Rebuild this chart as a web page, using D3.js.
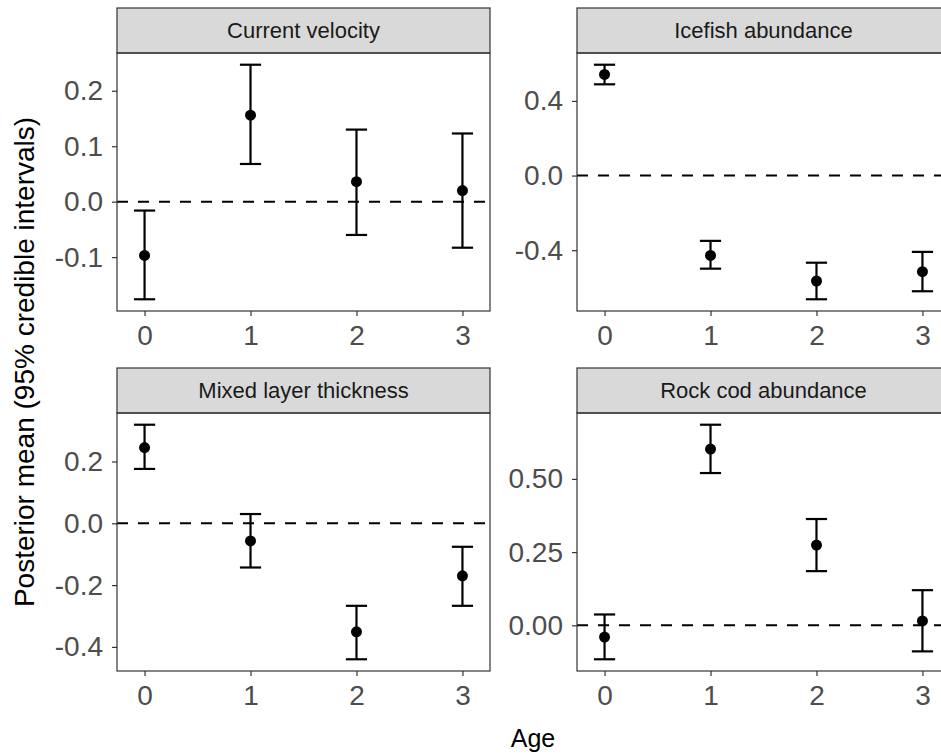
<!DOCTYPE html>
<html>
<head>
<meta charset="utf-8">
<script src="https://cdn.jsdelivr.net/npm/d3@7"></script>
<style>
  body { margin: 0; background: #fff; }
  svg { display: block; font-family: "Liberation Sans", Arial, sans-serif; }
</style>
</head>
<body>
<div id="chart"></div>
<script>
// ages on the x axis
var ages = [0, 1, 2, 3];

// facet titles, in drawing order (row by row)
var panels = ["Current velocity", "Icefish abundance", "Mixed layer thickness", "Rock cod abundance"];

// posterior means and 95% credible intervals, per panel
var velocityMean = [-0.097, 0.156, 0.036, 0.020];
var velocityLow  = [-0.176, 0.068, -0.060, -0.083];
var velocityHigh = [-0.016, 0.247, 0.130, 0.123];

var icefishMean = [0.542, -0.428, -0.565, -0.515];
var icefishLow  = [0.489, -0.499, -0.663, -0.620];
var icefishHigh = [0.594, -0.350, -0.467, -0.409];

var mixedMean = [0.245, -0.057, -0.351, -0.170];
var mixedLow  = [0.176, -0.143, -0.440, -0.267];
var mixedHigh = [0.319, 0.030, -0.267, -0.076];

var rockcodMean = [-0.040, 0.602, 0.274, 0.015];
var rockcodLow  = [-0.116, 0.520, 0.185, -0.089];
var rockcodHigh = [0.037, 0.685, 0.363, 0.120];

// y tick labels per panel
var velocityTicks = [-0.1, 0.0, 0.1, 0.2];
var icefishTicks  = [-0.4, 0.0, 0.4];
var mixedTicks    = [-0.4, -0.2, 0.0, 0.2];
var rockcodTicks  = [0.00, 0.25, 0.50];

var panelData = [
    {title: panels[0], mean: velocityMean, low: velocityLow, high: velocityHigh, ticks: velocityTicks, digits: 1},
    {title: panels[1], mean: icefishMean,  low: icefishLow,  high: icefishHigh,  ticks: icefishTicks,  digits: 1},
    {title: panels[2], mean: mixedMean,    low: mixedLow,    high: mixedHigh,    ticks: mixedTicks,    digits: 1},
    {title: panels[3], mean: rockcodMean,  low: rockcodLow,  high: rockcodHigh,  ticks: rockcodTicks,  digits: 2}
];

var W = 941, H = 756;
var colX = [117, 577];    // panel left edges
var rowY = [8, 368];      // strip top edges
var panelW = 373, stripH = 45, panelH = 258;
var capW = 0.2;           // error bar width in x units

var svg = d3.select("#chart").append("svg")
    .attr("width", W)
    .attr("height", H);

svg.append("rect").attr("width", W).attr("height", H).attr("fill", "white");

// x domain: error bar extent plus ggplot's 5% padding
var xPad = (ages[ages.length - 1] - ages[0] + capW) * 0.05;
var xDomain = [ages[0] - capW / 2 - xPad, ages[ages.length - 1] + capW / 2 + xPad];

panelData.forEach(function(p, i) {
    var left = colX[i % 2];
    var top = rowY[Math.floor(i / 2)];
    var g = svg.append("g").attr("transform", "translate(" + left + "," + top + ")");

    // strip
    g.append("rect")
        .attr("x", 0).attr("y", 0)
        .attr("width", panelW).attr("height", stripH)
        .attr("fill", "#d9d9d9")
        .attr("stroke", "#333").attr("stroke-width", 1.2);
    g.append("text")
        .attr("x", panelW / 2).attr("y", stripH / 2)
        .attr("dy", "0.35em")
        .attr("text-anchor", "middle")
        .attr("font-size", 22)
        .attr("fill", "#1a1a1a")
        .text(p.title);

    var plot = g.append("g").attr("transform", "translate(0," + stripH + ")");

    var x = d3.scaleLinear().domain(xDomain).range([0, panelW]);
    var lo = d3.min(p.low), hi = d3.max(p.high);
    var pad = (hi - lo) * 0.05;
    var y = d3.scaleLinear().domain([lo - pad, hi + pad]).range([panelH, 0]);

    // zero line
    plot.append("line")
        .attr("x1", 0).attr("x2", panelW)
        .attr("y1", y(0)).attr("y2", y(0))
        .attr("stroke", "black")
        .attr("stroke-width", 2)
        .attr("stroke-dasharray", "11,10");

    var rows = ages.map(function(a, j) {
        return {age: a, mean: p.mean[j], low: p.low[j], high: p.high[j]};
    });

    var bars = plot.selectAll("g.bar")
        .data(rows)
        .enter()
        .append("g")
        .attr("class", "bar");
    bars.append("line")
        .attr("x1", function(d) { return x(d.age); })
        .attr("x2", function(d) { return x(d.age); })
        .attr("y1", function(d) { return y(d.low); })
        .attr("y2", function(d) { return y(d.high); });
    bars.append("line")
        .attr("x1", function(d) { return x(d.age - capW / 2); })
        .attr("x2", function(d) { return x(d.age + capW / 2); })
        .attr("y1", function(d) { return y(d.low); })
        .attr("y2", function(d) { return y(d.low); });
    bars.append("line")
        .attr("x1", function(d) { return x(d.age - capW / 2); })
        .attr("x2", function(d) { return x(d.age + capW / 2); })
        .attr("y1", function(d) { return y(d.high); })
        .attr("y2", function(d) { return y(d.high); });
    bars.selectAll("line")
        .attr("stroke", "black")
        .attr("stroke-width", 2.2);
    bars.append("circle")
        .attr("cx", function(d) { return x(d.age); })
        .attr("cy", function(d) { return y(d.mean); })
        .attr("r", 5.5)
        .attr("fill", "black");

    // panel border
    plot.append("rect")
        .attr("width", panelW).attr("height", panelH)
        .attr("fill", "none")
        .attr("stroke", "#333").attr("stroke-width", 1.2);

    // axes
    var yAxis = plot.append("g")
        .call(d3.axisLeft(y)
            .tickValues(p.ticks)
            .tickSize(5)
            .tickPadding(9)
            .tickFormat(function(d) { return d.toFixed(p.digits); }));
    var xAxis = plot.append("g")
        .attr("transform", "translate(0," + panelH + ")")
        .call(d3.axisBottom(x)
            .tickValues(ages)
            .tickSize(5)
            .tickPadding(9)
            .tickFormat(d3.format("d")));

    [yAxis, xAxis].forEach(function(ax) {
        ax.select(".domain").remove();
        ax.selectAll(".tick line").attr("stroke", "#333").attr("stroke-width", 1.2);
        ax.selectAll(".tick text")
            .attr("fill", "#4d4d4d")
            .attr("font-size", 28)
            .attr("font-family", "Liberation Sans, Arial, sans-serif");
    });
});

// axis titles
svg.append("text")
    .attr("x", 533).attr("y", 747)
    .attr("text-anchor", "middle")
    .attr("font-size", 25)
    .attr("fill", "black")
    .text("Age");

svg.append("text")
    .attr("transform", "translate(34,362) rotate(-90)")
    .attr("text-anchor", "middle")
    .attr("font-size", 28)
    .attr("fill", "black")
    .text("Posterior mean (95% credible intervals)");
</script>
</body>
</html>
